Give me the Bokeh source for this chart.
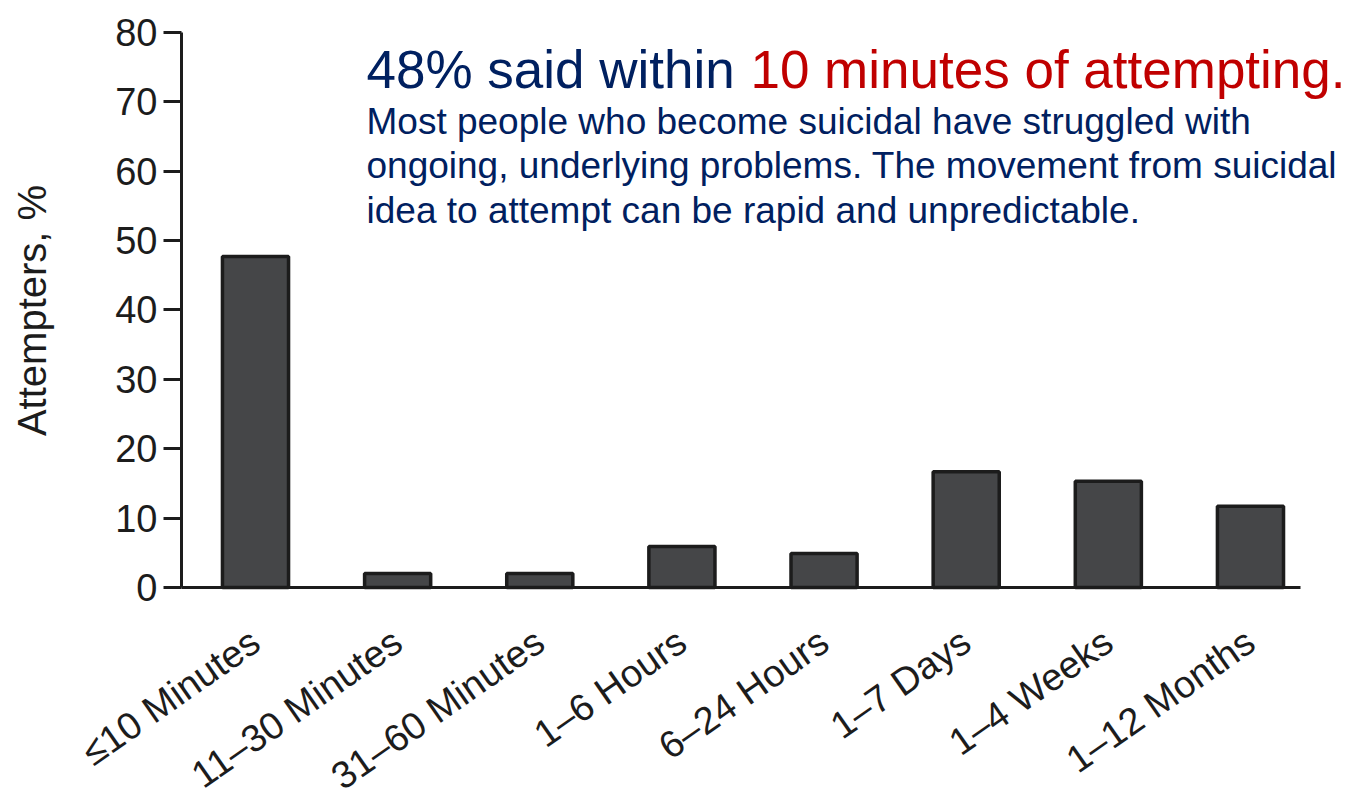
import math
from bokeh.plotting import figure
from bokeh.models import Range1d, FixedTicker, Label
from bokeh.embed import file_html
from bokeh.resources import INLINE

# ---- data ----
categories = ["≤10 Minutes", "11–30 Minutes", "31–60 Minutes", "1–6 Hours",
              "6–24 Hours", "1–7 Days", "1–4 Weeks", "1–12 Months"]
attempters_pct = [47.7, 2.0, 2.0, 5.9, 4.9, 16.7, 15.3, 11.7]
y_ticks = [0, 10, 20, 30, 40, 50, 60, 70, 80]
y_title = "Attempters, %"
headline_navy = "48% said within "
headline_red = "10 minutes of attempting."
body_lines = ["Most people who become suicidal have struggled with",
              "ongoing, underlying problems. The movement from suicidal",
              "idea to attempt can be rapid and unpredictable."]

FONT = "Liberation Sans"
NAVY = "#002060"
RED = "#C00000"
INK = "#1c1c1c"

xs = list(range(len(categories)))
X_LEFT = -0.5206   # where the y axis sits
X_RIGHT = 7.352    # where the x axis line ends

# the frame covers the whole canvas; axes are drawn at fixed data locations
p = figure(width=1352, height=803,
           x_range=Range1d(-1.794, 7.7178), y_range=Range1d(-31.135, 84.61),
           output_backend="svg", toolbar_location=None,
           min_border_left=0, min_border_top=0,
           min_border_right=0, min_border_bottom=0)
p.outline_line_color = None
p.xgrid.visible = False
p.ygrid.visible = False
p.background_fill_color = "white"
p.border_fill_color = "white"

p.vbar(x=xs, top=attempters_pct, width=0.465, bottom=0,
       fill_color="#454648", line_color=INK, line_width=3.5)

# y axis
ya = p.yaxis[0]
ya.fixed_location = X_LEFT
ya.ticker = FixedTicker(ticks=y_ticks)
ya.bounds = (0, 80)
ya.axis_line_width = 3
ya.axis_line_color = INK
ya.major_tick_line_width = 3
ya.major_tick_line_color = INK
ya.major_tick_out = 18
ya.major_tick_in = 0
ya.minor_tick_line_color = None
ya.major_label_text_font = FONT
ya.major_label_text_font_size = "38px"
ya.major_label_text_color = INK
ya.major_label_standoff = 6

# x axis, drawn at y = 0
xa = p.xaxis[0]
xa.fixed_location = 0
xa.ticker = FixedTicker(ticks=xs)
xa.bounds = (X_LEFT, X_RIGHT)
xa.major_label_overrides = {i: c for i, c in zip(xs, categories)}
xa.axis_line_width = 3
xa.axis_line_color = INK
xa.major_tick_line_color = None
xa.major_tick_out = 0
xa.major_tick_in = 0
xa.minor_tick_line_color = None
xa.major_label_text_font = FONT
xa.major_label_text_font_size = "38px"
xa.major_label_text_color = INK
xa.major_label_orientation = math.radians(35)
xa.major_label_standoff = 50

# y axis title
p.add_layout(Label(x=-1.569, y=39.93, text=y_title, angle=math.pi / 2,
                   text_font=FONT, text_font_size="40px", text_color=INK,
                   text_align="center", text_baseline="middle"))

# headline and body text
p.add_layout(Label(x=0.781, y=74.7, text=headline_navy, text_font=FONT,
                   text_font_size="53px", text_color=NAVY,
                   text_baseline="alphabetic", text_align="left"))
p.add_layout(Label(x=3.482, y=74.7, text=headline_red, text_font=FONT,
                   text_font_size="53px", text_color=RED,
                   text_baseline="alphabetic", text_align="left"))
for line, yb in zip(body_lines, [67.1, 60.76, 54.27]):
    p.add_layout(Label(x=0.781, y=yb, text=line, text_font=FONT,
                       text_font_size="37px", text_color=NAVY,
                       text_baseline="alphabetic", text_align="left"))

open("out.html", "w").write(file_html(p, INLINE))
